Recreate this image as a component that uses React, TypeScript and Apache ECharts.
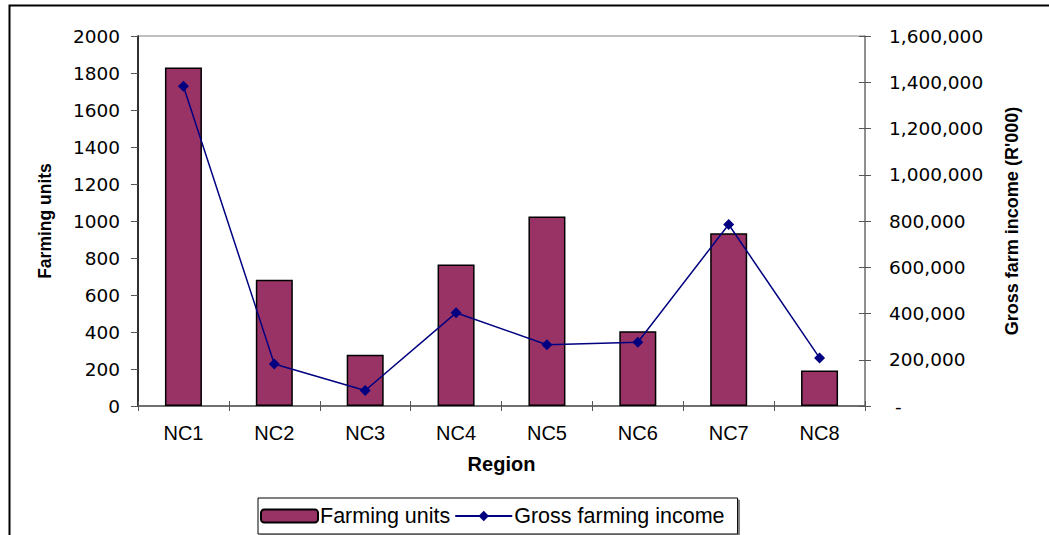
import React, { useEffect, useRef } from "react";
import * as echarts from "echarts";

// Regions on the category axis
const regions = ["NC1", "NC2", "NC3", "NC4", "NC5", "NC6", "NC7", "NC8"];
// Number of farming units per region (left axis)
const farmingUnits = [1830, 682, 277, 765, 1024, 404, 934, 192];
// Gross farming income per region, R'000 (right axis)
const grossIncome = [1383000, 182000, 67000, 403000, 265000, 276000, 785000, 208000];
// Axis ranges
const unitsMax = 2000;
const unitsStep = 200;
const incomeMax = 1600000;
const incomeStep = 200000;

const FONT = "'Liberation Sans', Arial, sans-serif";
const NUM_FONT = "'DejaVu Sans', Verdana, sans-serif";

const fmtUnits = (v: number) => String(v);
const fmtIncome = (v: number) => (v === 0 ? " -" : v.toLocaleString("en-US"));

export default function App() {
  const ref = useRef<HTMLDivElement>(null);

  useEffect(() => {
    if (!ref.current) return;
    const chart = echarts.init(ref.current, undefined, { renderer: "svg" });
    chart.setOption({
      animation: false,
      backgroundColor: "#ffffff",
      textStyle: { fontFamily: FONT, color: "#000" },
      grid: {
        left: 138,
        right: 184,
        top: 36,
        bottom: 129,
        show: true,
        borderColor: "#808080",
        borderWidth: 1,
        backgroundColor: "transparent",
      },
      legend: {
        left: 258,
        top: 498,
        orient: "horizontal",
        itemWidth: 57,
        itemHeight: 13,
        itemGap: 4,
        padding: [7, 13, 7, 2],
        borderColor: "#000",
        borderWidth: 1,
        backgroundColor: "#fff",
        shadowColor: "#808080",
        shadowOffsetX: 2,
        shadowOffsetY: 2,
        shadowBlur: 0,
        textStyle: { fontFamily: FONT, fontSize: 21.5, color: "#000", padding: [0, 0, 0, -3] },
        data: ["Farming units", "Gross farming income"],
      },
      xAxis: [
        {
          type: "category",
          data: regions,
          position: "bottom",
          name: "Region",
          nameLocation: "middle",
          nameGap: 48,
          nameTextStyle: { fontFamily: FONT, fontSize: 20, fontWeight: "bold", color: "#000" },
          axisLine: { show: true, lineStyle: { color: "#555", width: 1.5 } },
          axisTick: { show: true, inside: false, length: 5, lineStyle: { color: "#555" } },
          axisLabel: { margin: 17, fontFamily: FONT, fontSize: 20, color: "#000" },
          splitLine: { show: false },
        },
        {
          type: "category",
          data: regions,
          position: "bottom",
          axisLine: { show: false },
          axisTick: { show: true, inside: true, length: 5, lineStyle: { color: "#555" } },
          axisLabel: { show: false },
          splitLine: { show: false },
        },
      ],
      yAxis: [
        {
          type: "value",
          min: 0,
          max: unitsMax,
          interval: unitsStep,
          position: "left",
          name: "Farming units",
          nameLocation: "middle",
          nameGap: 84,
          nameRotate: 90,
          nameTextStyle: { fontFamily: FONT, fontSize: 17.5, fontWeight: "bold", color: "#000" },
          axisLine: { show: true, lineStyle: { color: "#000", width: 1.5 } },
          axisTick: { show: true, inside: false, length: 7, lineStyle: { color: "#555" } },
          axisLabel: {
            margin: 18,
            fontFamily: NUM_FONT,
            fontSize: 18.5,
            color: "#000",
            formatter: fmtUnits,
          },
          splitLine: { show: false },
        },
        {
          type: "value",
          min: 0,
          max: incomeMax,
          interval: incomeStep,
          position: "right",
          name: "Gross farm income (R'000)",
          nameLocation: "middle",
          nameGap: 138,
          nameRotate: 90,
          nameTextStyle: { fontFamily: FONT, fontSize: 18, fontWeight: "bold", color: "#000" },
          axisLine: { show: true, lineStyle: { color: "#808080", width: 1.5 } },
          axisTick: { show: true, inside: false, length: 6, lineStyle: { color: "#555" } },
          axisLabel: {
            margin: 24,
            fontFamily: NUM_FONT,
            fontSize: 18.5,
            color: "#000",
            formatter: fmtIncome,
          },
          splitLine: { show: false },
        },
        {
          type: "value",
          min: 0,
          max: incomeMax,
          interval: incomeStep,
          position: "right",
          axisLine: { show: false },
          axisTick: { show: true, inside: true, length: 6, lineStyle: { color: "#555" } },
          axisLabel: { show: false },
          splitLine: { show: false },
        },
      ],
      series: [
        {
          name: "Farming units",
          type: "bar",
          xAxisIndex: 0,
          yAxisIndex: 0,
          data: farmingUnits,
          barWidth: 37,
          itemStyle: { color: "#993366", borderColor: "#000", borderWidth: 1.5 },
        },
        {
          name: "Gross farming income",
          type: "line",
          xAxisIndex: 0,
          yAxisIndex: 1,
          data: grossIncome,
          symbol: "diamond",
          symbolSize: 11,
          lineStyle: { color: "#000080", width: 1.5 },
          itemStyle: { color: "#000080" },
        },
      ],
      graphic: [
        {
          type: "polyline",
          silent: true,
          shape: { points: [[9.5, 545], [9.5, 5.5], [1060, 5.5]] },
          style: { stroke: "#000", lineWidth: 2, fill: "none" },
        },
      ],
    });
    return () => chart.dispose();
  }, []);

  return (
    <div
      ref={ref}
      style={{ position: "absolute", left: 0, top: 0, width: 1049, height: 535 }}
    />
  );
}
